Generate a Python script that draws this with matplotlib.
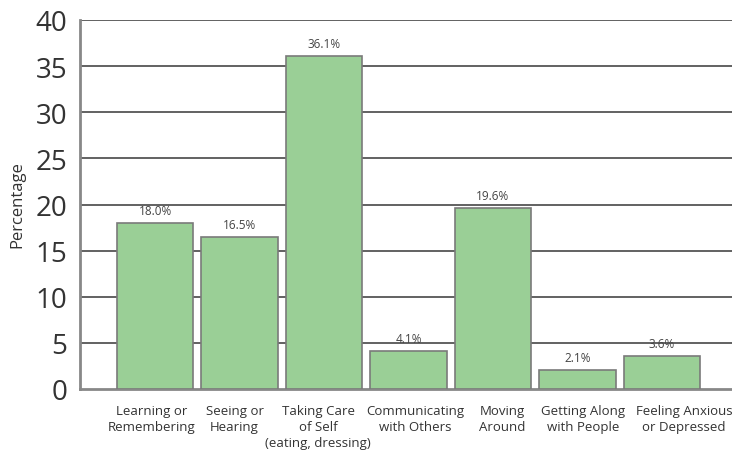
import matplotlib
matplotlib.use("Agg")
import matplotlib.pyplot as plt
from matplotlib.transforms import ScaledTranslation

categories = ["Learning or\nRemembering", "Seeing or\nHearing", "Taking Care\nof Self\n(eating, dressing)",
              "Communicating\nwith Others", "Moving\nAround", "Getting Along\nwith People",
              "Feeling Anxious\nor Depressed"]
values = [18.0, 16.5, 36.1, 4.1, 19.6, 2.1, 3.6]
value_labels = ["18.0%", "16.5%", "36.1%", "4.1%", "19.6%", "2.1%", "3.6%"]
yticks = [0, 5, 10, 15, 20, 25, 30, 35, 40]

# horizontal nudges of the category labels (pixels), as in the reference layout
label_nudge_px = [-3, -5, -6, 7, 9, 6, 22]

plt.rcParams['font.family'] = ['Open Sans', 'DejaVu Sans']

W, H = 732, 456
fig = plt.figure(figsize=(W / 100, H / 100), dpi=100)
x0, x1 = 80, 737
y0, y1 = 390, 21
ax = fig.add_axes([x0 / W, 1 - y0 / H, (x1 - x0) / W, (y0 - y1) / H])

x = list(range(len(categories)))
ax.bar(x, values, width=0.9, color="#9acf96", edgecolor="#7a7a7a", linewidth=1.2, zorder=3)
for xi, v, lab in zip(x, values, value_labels):
    ax.text(xi, v + 0.65, lab, ha="center", va="bottom", fontsize=8.5, color="#444444", zorder=4)

ax.set_xlim(-0.888, 6.888)
ax.set_ylim(0, 40)
ax.set_yticks(yticks)
ax.set_yticklabels([str(t) for t in yticks], fontsize=20, color="#333333")
ax.set_xticks(x)
ax.set_xticklabels(categories, fontsize=9.5, color="#333333", linespacing=1.3)
ax.tick_params(axis="both", length=0)
ax.tick_params(axis="x", pad=11)
ax.tick_params(axis="y", pad=9)

for lbl, dx in zip(ax.get_xticklabels(), label_nudge_px):
    lbl.set_transform(lbl.get_transform() + ScaledTranslation(dx / 100, 0, fig.dpi_scale_trans))

for t in yticks[1:]:
    ax.axhline(t, color="#555555", linewidth=1.3, zorder=1)

for s in ["top", "right"]:
    ax.spines[s].set_visible(False)
ax.spines["left"].set_color("#888888")
ax.spines["left"].set_linewidth(2)
ax.spines["bottom"].set_color("#888888")
ax.spines["bottom"].set_linewidth(2)

fig.text(17 / W, 1 - 205 / H, "Percentage", rotation=90, ha="center", va="center",
         fontsize=12, color="#333333")

fig.savefig("out.png", dpi=100)
